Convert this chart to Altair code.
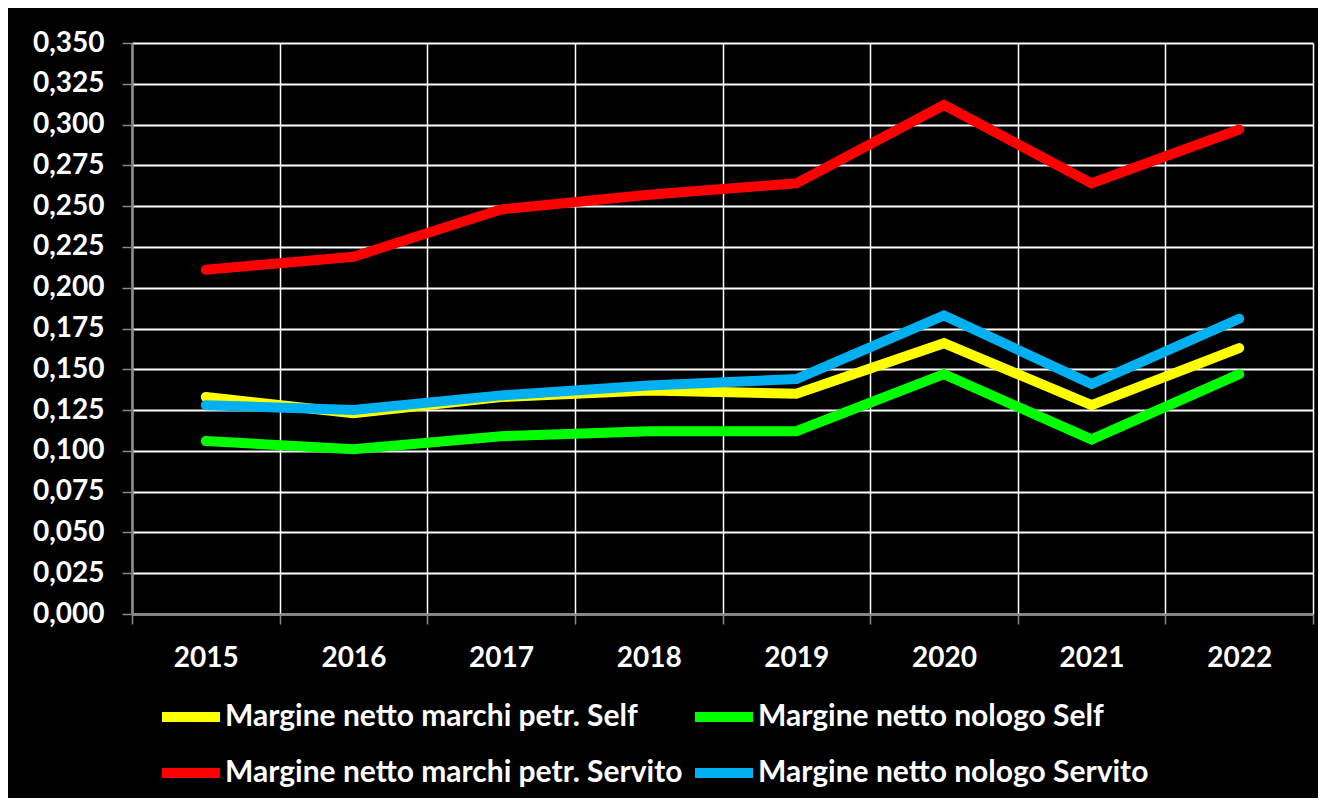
import altair as alt
import pandas as pd

years = ["2015", "2016", "2017", "2018", "2019", "2020", "2021", "2022"]
series_names = [
    "Margine netto marchi petr. Self",
    "Margine netto nologo Self",
    "Margine netto marchi petr. Servito",
    "Margine netto nologo Servito",
]
colors = ["#FFFF00", "#00FF00", "#FF0000", "#00B0F0"]

marchi_self = [0.133, 0.123, 0.133, 0.137, 0.135, 0.166, 0.128, 0.163]
nologo_self = [0.106, 0.101, 0.109, 0.112, 0.112, 0.147, 0.107, 0.147]
marchi_servito = [0.211, 0.219, 0.248, 0.257, 0.264, 0.312, 0.264, 0.297]
nologo_servito = [0.128, 0.125, 0.134, 0.140, 0.144, 0.183, 0.141, 0.181]

y_ticks = [0.0, 0.025, 0.05, 0.075, 0.1, 0.125, 0.15, 0.175, 0.2, 0.225,
           0.25, 0.275, 0.3, 0.325, 0.35]

all_values = [marchi_self, nologo_self, marchi_servito, nologo_servito]
rows = []
for order, (name, vals) in enumerate(zip(series_names, all_values)):
    for yr, v in zip(years, vals):
        rows.append({"Anno": yr, "Serie": name, "Valore": v, "ord": order})
df = pd.DataFrame(rows)

FONT = "Lato"

chart = alt.Chart(df).mark_line(strokeWidth=10, strokeCap="round", strokeJoin="miter").encode(
    x=alt.X(
        "Anno:N",
        sort=years,
        scale=alt.Scale(type="band", paddingInner=0, paddingOuter=0),
        bandPosition=0.5,
        axis=alt.Axis(
            title=None,
            labelAngle=0,
            tickBand="extent",
            grid=True,
            gridColor="#FFFFFF",
            gridWidth=1.5,
            domainColor="#888888",
            domainWidth=2,
            tickColor="#888888",
            tickWidth=1.5,
            tickSize=10,
            labelColor="#FFFFFF",
            labelFont=FONT,
            labelFontWeight="bold",
            labelFontSize=28,
            labelPadding=20,
        ),
    ),
    y=alt.Y(
        "Valore:Q",
        scale=alt.Scale(domain=[0, 0.35], nice=False),
        axis=alt.Axis(
            title=None,
            values=y_ticks,
            labelExpr="replace(format(datum.value, '.3f'), '.', ',')",
            grid=True,
            gridColor="#FFFFFF",
            gridWidth=2,
            domainColor="#888888",
            domainWidth=2.5,
            tickColor="#888888",
            tickWidth=1.5,
            tickSize=10,
            labelColor="#FFFFFF",
            labelFont=FONT,
            labelFontWeight="bold",
            labelFontSize=28,
            labelPadding=18,
        ),
    ),
    color=alt.Color(
        "Serie:N",
        sort=series_names,
        scale=alt.Scale(domain=series_names, range=colors),
        legend=alt.Legend(
            title=None,
            orient="none",
            direction="horizontal",
            legendX=18,
            legendY=654,
            columns=2,
            columnPadding=0,
            rowPadding=16,
            clipHeight=40,
            symbolType="stroke",
            symbolSize=3364,
            symbolStrokeWidth=10,
            symbolOffset=7,
            labelOffset=0,
            labelColor="#FFFFFF",
            labelFont=FONT,
            labelFontWeight="bold",
            labelFontSize=30,
            labelLimit=700,
        ),
    ),
    order=alt.Order("ord:Q"),
).properties(
    width=1181,
    height=571,
    background="#000000",
    padding={"left": 124, "top": 35, "right": 5, "bottom": 184},
    autosize=alt.AutoSizeParams(type="none"),
).configure_view(
    stroke=None,
    fill="#000000",
)

chart.save("out.html", embed_options={"renderer": "svg", "actions": False})
